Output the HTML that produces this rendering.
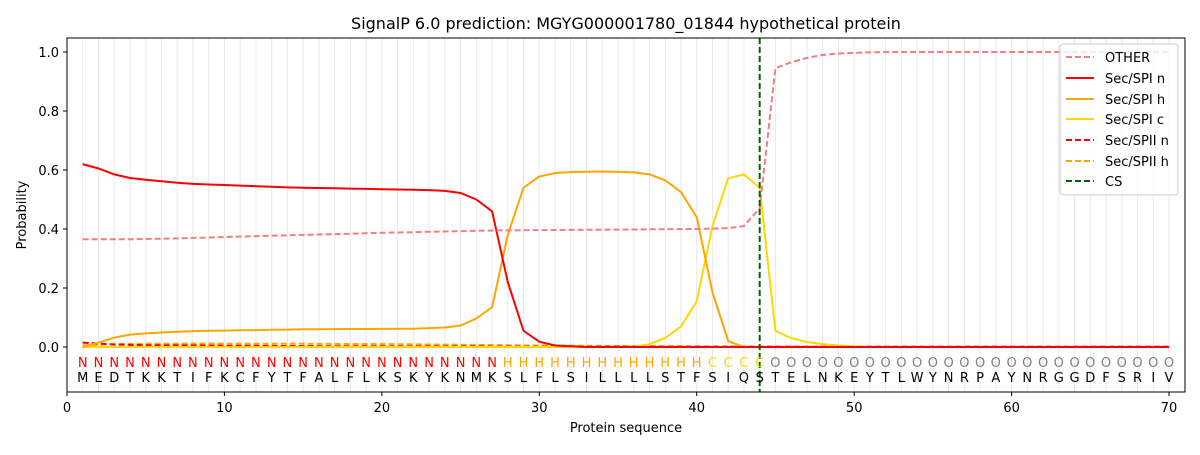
<!DOCTYPE html>
<html><head><meta charset="utf-8"><style>
body{margin:0;background:#fff}
svg{font-family:"DejaVu Sans","Liberation Sans",sans-serif}
</style></head><body>
<svg id="s" width="1200" height="450" xmlns="http://www.w3.org/2000/svg">
<rect width="1200" height="450" fill="#fff"/>
<g id="grid"></g>
<g id="lines"></g>
<text x="626" y="29" font-size="16" text-anchor="middle">SignalP 6.0 prediction: MGYG000001780_01844 hypothetical protein</text>
<g font-size="13" text-anchor="middle">
<text y="367"><tspan fill="#ff0000" x="82.7 98.5 114.2 130.0 145.7 161.5 177.2 192.9 208.7 224.4 240.2 255.9 271.7 287.4 303.1 318.9 334.6 350.4 366.1 381.9 397.6 413.3 429.1 444.8 460.6 476.3 492.1">NNNNNNNNNNNNNNNNNNNNNNNNNNN</tspan><tspan fill="#ffa500" x="507.8 523.5 539.3 555.0 570.8 586.5 602.3 618.0 633.7 649.5 665.2 681.0 696.7">HHHHHHHHHHHHH</tspan><tspan fill="#ffd700" x="712.5 728.2 743.9 759.7">CCCC</tspan><tspan fill="#808080" x="775.4 791.2 806.9 822.7 838.4 854.2 869.9 885.6 901.4 917.1 932.9 948.6 964.4 980.1 995.8 1011.6 1027.3 1043.1 1058.8 1074.6 1090.3 1106.0 1121.8 1137.5 1153.3 1169.0">OOOOOOOOOOOOOOOOOOOOOOOOOO</tspan></text>
<text y="382" x="82.7 98.5 114.2 130.0 145.7 161.5 177.2 192.9 208.7 224.4 240.2 255.9 271.7 287.4 303.1 318.9 334.6 350.4 366.1 381.9 397.6 413.3 429.1 444.8 460.6 476.3 492.1 507.8 523.5 539.3 555.0 570.8 586.5 602.3 618.0 633.7 649.5 665.2 681.0 696.7 712.5 728.2 743.9 759.7 775.4 791.2 806.9 822.7 838.4 854.2 869.9 885.6 901.4 917.1 932.9 948.6 964.4 980.1 995.8 1011.6 1027.3 1043.1 1058.8 1074.6 1090.3 1106.0 1121.8 1137.5 1153.3 1169.0">MEDTKKTIFKCFYTFALFLKSKYKNMKSLFLSILLLLSTFSIQSTELNKEYTLWYNRPAYNRGGDFSRIV</text>
</g>
<rect x="67" y="38" width="1118" height="354" fill="none" stroke="#000" stroke-width="1"/>
<g font-size="13" text-anchor="middle">
<text x="67" y="412">0</text><text x="224.4" y="412">10</text><text x="381.9" y="412">20</text><text x="539.3" y="412">30</text><text x="696.7" y="412">40</text><text x="854.2" y="412">50</text><text x="1011.6" y="412">60</text><text x="1169" y="412">70</text>
<text x="626" y="432">Protein sequence</text>
</g>
<g font-size="13" text-anchor="end">
<text x="59" y="352">0.0</text><text x="59" y="293">0.2</text><text x="59" y="234">0.4</text><text x="59" y="175">0.6</text><text x="59" y="116">0.8</text><text x="59" y="57">1.0</text>
</g>
<text transform="translate(26,215) rotate(-90)" font-size="13" text-anchor="middle">Probability</text>
<g stroke="#000"><line x1="67" x2="67" y1="392" y2="396"/><line x1="224.4" x2="224.4" y1="392" y2="396"/><line x1="381.9" x2="381.9" y1="392" y2="396"/><line x1="539.3" x2="539.3" y1="392" y2="396"/><line x1="696.7" x2="696.7" y1="392" y2="396"/><line x1="854.2" x2="854.2" y1="392" y2="396"/><line x1="1011.6" x2="1011.6" y1="392" y2="396"/><line x1="1169" x2="1169" y1="392" y2="396"/>
<line x1="63" x2="67" y1="347" y2="347"/><line x1="63" x2="67" y1="288" y2="288"/><line x1="63" x2="67" y1="229" y2="229"/><line x1="63" x2="67" y1="170" y2="170"/><line x1="63" x2="67" y1="111" y2="111"/><line x1="63" x2="67" y1="52" y2="52"/></g>
<g>
<rect x="1060" y="44" width="118" height="151" rx="3" fill="#fff" fill-opacity="0.8" stroke="#ccc"/>
<g stroke-width="2" fill="none">
<line x1="1066" x2="1094" y1="57" y2="57" stroke="#f08080" stroke-dasharray="6,3"/>
<line x1="1066" x2="1094" y1="78" y2="78" stroke="#ff0000"/>
<line x1="1066" x2="1094" y1="99" y2="99" stroke="#ffa500"/>
<line x1="1066" x2="1094" y1="119" y2="119" stroke="#ffd700"/>
<line x1="1066" x2="1094" y1="140" y2="140" stroke="#ff0000" stroke-dasharray="6,3"/>
<line x1="1066" x2="1094" y1="161" y2="161" stroke="#ffa500" stroke-dasharray="6,3"/>
<line x1="1066" x2="1094" y1="181" y2="181" stroke="#006400" stroke-dasharray="6,3"/>
</g>
<g font-size="13"><text x="1105" y="62">OTHER</text><text x="1105" y="83">Sec/SPI n</text><text x="1105" y="104">Sec/SPI h</text><text x="1105" y="124">Sec/SPI c</text><text x="1105" y="145">Sec/SPII n</text><text x="1105" y="166">Sec/SPII h</text><text x="1105" y="186">CS</text></g>
</g>
</svg>
<script>
var X=i=>67+15.743*i, Y=p=>347-295*p;
var g='';for(var i=1;i<=70;i++)g+='<line x1="'+X(i)+'" x2="'+X(i)+'" y1="38" y2="392" stroke="#e8e8e8" stroke-width="1"/>';
document.getElementById('grid').innerHTML=g;
function interp(k){var a=[],ks=Object.keys(k).map(Number).sort((a,b)=>a-b);for(var i=1;i<=70;i++){var v;if(i<=ks[0])v=k[ks[0]];else if(i>=ks[ks.length-1])v=k[ks[ks.length-1]];else{for(var j=0;j<ks.length-1;j++)if(i>=ks[j]&&i<=ks[j+1]){var t=(i-ks[j])/(ks[j+1]-ks[j]);v=k[ks[j]]+t*(k[ks[j+1]]-k[ks[j]]);break;}}a.push(v);}return a;}
var S=[
[{1:0.005,3:0.01,8:0.012,20:0.01,30:0.005,40:0.002,45:0.001},'#ffa500','6,3'],
[{1:0.015,2:0.012,3:0.008,5:0.006,15:0.003,30:0.001},'#ff0000','6,3'],
[{1:0,36:0,37:0.01,38:0.03,39:0.07,40:0.155,41:0.41,42:0.572,43:0.585,44:0.54,45:0.055,46:0.03,47:0.017,48:0.01,49:0.005,50:0.002,51:0},'#ffd700',''],
[{1:0,2:0.015,3:0.032,4:0.042,5:0.046,6:0.049,8:0.054,15:0.06,22:0.062,24:0.066,25:0.073,26:0.097,27:0.135,28:0.38,29:0.54,30:0.578,31:0.59,32:0.593,34:0.595,36:0.592,37:0.585,38:0.565,39:0.525,40:0.44,41:0.185,42:0.02,43:0},'#ffa500',''],
[{1:0.62,2:0.605,3:0.585,4:0.573,5:0.567,6:0.562,7:0.557,8:0.553,9:0.551,10:0.549,12:0.545,14:0.541,20:0.535,23:0.532,24:0.529,25:0.522,26:0.5,27:0.46,28:0.22,29:0.055,30:0.018,31:0.005,33:0},'#ff0000',''],
[{1:0.365,4:0.365,7:0.368,10:0.373,20:0.387,27:0.395,40:0.4,42:0.403,43:0.41,44:0.47,45:0.945,46:0.965,47:0.98,48:0.99,49:0.995,50:0.997,52:1.0},'#f08080','6,3']
];
var h='';S.forEach(s=>{var d=interp(s[0]);h+='<polyline fill="none" stroke="'+s[1]+'" stroke-width="2" '+(s[2]?'stroke-dasharray="'+s[2]+'"':'')+' points="'+d.map((v,i)=>X(i+1).toFixed(1)+','+Y(v).toFixed(1)).join(' ')+'"/>';});
h+='<line x1="'+X(44)+'" x2="'+X(44)+'" y1="38" y2="392" stroke="#006400" stroke-width="2" stroke-dasharray="6,3"/>';
document.getElementById('lines').innerHTML=h;
</script>
</body></html>
